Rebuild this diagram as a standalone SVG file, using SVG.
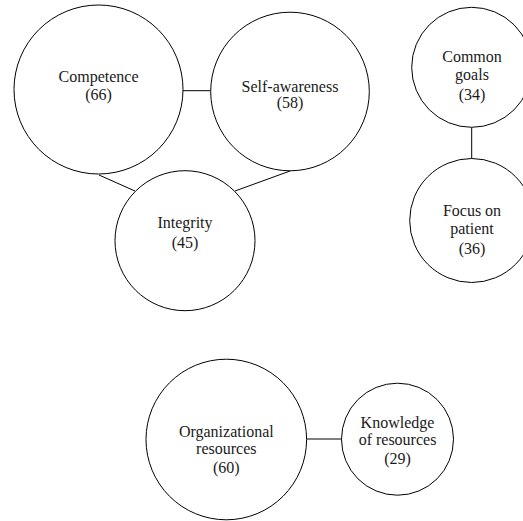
<svg xmlns="http://www.w3.org/2000/svg" width="523" height="521" viewBox="0 0 523 521">
<style>
.n{fill:#fff;stroke:#000;stroke-width:1}
.c{stroke:#000;stroke-width:1;fill:none}
.t{font-size:16px;fill:#1a1a1a;text-anchor:middle}
</style>
<rect width="523" height="521" fill="#fff"/>
<g id="connectors">
<line class="c" x1="182.7" y1="90.7" x2="210.7" y2="90.7"/>
<line class="c" x1="99" y1="175" x2="135" y2="191"/>
<line class="c" x1="235" y1="191" x2="290" y2="171"/>
<line class="c" x1="471.7" y1="127.3" x2="471.7" y2="158.3"/>
<line class="c" x1="306.7" y1="439" x2="341.7" y2="439"/>
</g>
<g class="t" font-family="Liberation Serif, DejaVu Serif, serif">
<g id="competence">
<circle class="n" cx="98.5" cy="89.5" r="84.5"/>
<text x="98.5" y="82">Competence</text>
<text x="98.5" y="100">(66)</text>
</g>
<g id="self-awareness">
<circle class="n" cx="290" cy="91.5" r="79.3"/>
<text x="290" y="91.5">Self-awareness</text>
<text x="290" y="108">(58)</text>
</g>
<g id="integrity">
<circle class="n" cx="185" cy="240.7" r="70"/>
<text x="185" y="228">Integrity</text>
<text x="185" y="247.5">(45)</text>
</g>
<g id="common-goals">
<circle class="n" cx="471.7" cy="67.3" r="60"/>
<text x="472" y="62">Common</text>
<text x="472" y="80">goals</text>
<text x="472" y="100">(34)</text>
</g>
<g id="focus-on-patient">
<circle class="n" cx="471.7" cy="220.5" r="62"/>
<text x="472" y="215.5">Focus on</text>
<text x="472" y="234">patient</text>
<text x="472" y="254">(36)</text>
</g>
<g id="organizational-resources">
<circle class="n" cx="226.3" cy="439.5" r="80.3"/>
<text x="226.3" y="436.5">Organizational</text>
<text x="226.3" y="454">resources</text>
<text x="226.3" y="472.5">(60)</text>
</g>
<g id="knowledge-of-resources">
<circle class="n" cx="397.5" cy="439.2" r="56"/>
<text x="397.5" y="427.5">Knowledge</text>
<text x="397.5" y="444.5">of resources</text>
<text x="397.5" y="463.5">(29)</text>
</g>
</g>
</svg>
